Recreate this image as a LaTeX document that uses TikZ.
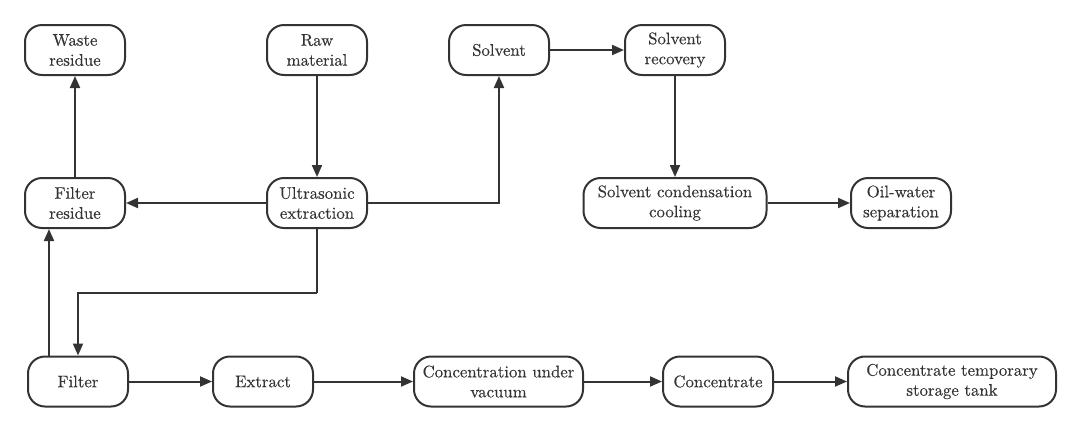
\documentclass[tikz,border=0pt]{standalone}
\usepackage{fontspec}
\newfontfamily\boxfont{lmroman10-regular}[Extension=.otf, FakeBold=0.25]
\usetikzlibrary{arrows.meta,calc}
\definecolor{ink}{HTML}{333333}
\begin{document}
\begin{tikzpicture}[x=1pt,y=1pt,
  proc/.style={draw=ink, line width=2pt, rounded corners=17pt, minimum height=50pt,
    minimum width=100pt, align=center, inner sep=2pt, text=ink,
    font=\boxfont\fontsize{16.8}{20}\selectfont},
  arr/.style={draw=ink, line width=2pt, -{Triangle[length=12pt,width=10pt]}},
  ln/.style={draw=ink, line width=2pt}]
\useasboundingbox (0,0) rectangle (1080,-432);
\fill[white] (0,0) rectangle (1080,-432);
\node[proc] (waste) at (75,-50) {Waste\\residue};
\node[proc] (raw) at (317,-50) {Raw\\material};
\node[proc] (solvent) at (499,-50) {Solvent};
\node[proc] (recovery) at (675,-50) {Solvent\\recovery};
\node[proc] (fres) at (75,-203) {Filter\\residue};
\node[proc] (ultra) at (317,-203) {Ultrasonic\\extraction};
\node[proc, minimum width=183pt] (cond) at (675,-203) {Solvent condensation\\cooling};
\node[proc] (oil) at (901,-203) {Oil-water\\separation};
\node[proc] (filter) at (78,-381.5) {Filter};
\node[proc] (extract) at (263,-381.5) {Extract};
\node[proc, minimum width=169pt] (vacuum) at (498.5,-381.5) {Concentration under\\vacuum};
\node[proc, minimum width=110pt] (conc) at (718,-381.5) {Concentrate};
\node[proc, minimum width=208pt] (tank) at (952,-381.5) {Concentrate temporary\\storage tank};
\coordinate (bend) at (317,-293);

\draw[arr] (raw.south) -- (ultra.north);
\draw[arr] (ultra.west) -- (fres.east);
\draw[arr] (fres.north) -- (waste.south);
\draw[arr] (ultra.east) -| (solvent.south);
\draw[arr] (solvent.east) -- (recovery.west);
\draw[arr] (recovery.south) -- (cond.north);
\draw[arr] (cond.east) -- (oil.west);
\draw[ln] (ultra.south) -- (bend);
\draw[arr] (bend) -| (filter.north);
\draw[arr] ([xshift=-29pt]filter.north) -- ([xshift=-29pt]filter.north |- fres.south);
\draw[arr] (filter.east) -- (extract.west);
\draw[arr] (extract.east) -- (vacuum.west);
\draw[arr] (vacuum.east) -- (conc.west);
\draw[arr] (conc.east) -- (tank.west);
\end{tikzpicture}
\end{document}
